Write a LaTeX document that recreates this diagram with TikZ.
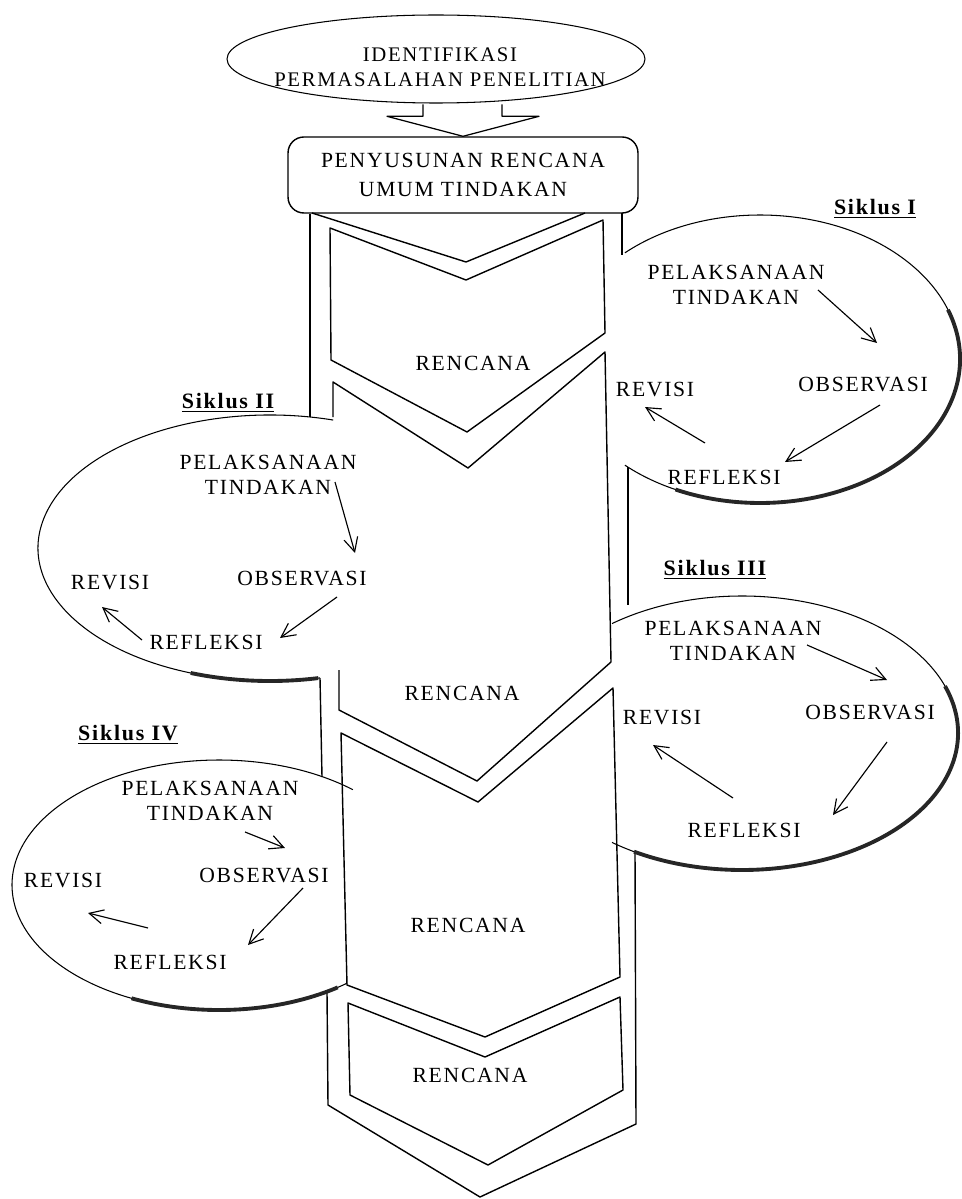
\documentclass[tikz,border=0pt]{standalone}
\usepackage{fontspec}
\setmainfont{Liberation Serif}[LetterSpace=8]
\usetikzlibrary{arrows.meta,calc}

\begin{document}
\begin{tikzpicture}[x=0.02cm, y=0.02cm,
					line join=round,
					txt/.style={font=\fontsize{12.3}{14.6}\selectfont, align=center, inner sep=1pt},
					lbl/.style={font=\fontsize{12.5}{15}\selectfont\bfseries, inner sep=1pt},
					wall/.style={line width=0.8pt},
					rim/.style={line width=0.6pt},
					shadow rim/.style={line width=2.2pt, black!85},
					cyc/.style={-{Straight Barb[length=8pt,width=8pt]}, line width=0.65pt}]

  \useasboundingbox (0,0) rectangle (961,-1199);

  % top
  \node[txt, font=\fontsize{11.8}{14.2}\selectfont] (ident) at (440,-67) {IDENTIFIKASI\\PERMASALAHAN PENELITIAN};
  \draw[rim] (ident.center) ++(-4,8) ellipse [x radius=209, y radius=44];
  \node[txt, draw, line width=0.8pt, rounded corners=9pt, minimum width=7cm, minimum height=1.52cm,
        font=\fontsize{12.3}{16.4}\selectfont] (plan) at (463,-175) {PENYUSUNAN RENCANA\\UMUM TINDAKAN};
  \draw[rim, line width=0.7pt] ($(plan.north)+(-40,32)$) -- ++(0,-12) -- ++(-36,0) -- (plan.north)
        -- ++(76,20) -- ++(-37,0) -- ++(0,12);

  % column
  \draw[wall] (312,-213) -- (466,-262) -- (585,-213);
  \draw[wall] (330,-228) -- (466,-280) -- (603,-220) -- (605,-333) -- (467,-432) -- (331,-360) -- cycle;
  \draw[wall] (333,-417) -- (333,-382) -- (468,-468) -- (605,-352) -- (611,-662) -- (477,-781) -- (339,-710) -- (339,-670);
  \draw[wall] (341,-733) -- (478,-802) -- (613,-688) -- (620,-977) -- (485,-1037) -- (347,-985) -- cycle;
  \draw[wall] (348,-1003) -- (485,-1057) -- (620,-997) -- (623,-1090) -- (488,-1165) -- (350,-1095) -- cycle;
  \draw[wall] (310,-214) -- (310,-417);
  \draw[wall] (320,-678) -- (322,-777);
  \draw[wall] (327,-992) -- (328,-1105) -- (480,-1197) -- (636,-1124) -- (635,-852);
  \draw[wall] (628,-467) -- (628,-605);
  \draw[wall] (622,-213) -- (622,-255);

  \node[txt] (ren1) at (473,-363) {RENCANA};
  \node[txt] (ren2) at (462,-693) {RENCANA};
  \node[txt] (ren3) at (468,-925) {RENCANA};
  \node[txt] (ren4) at (470,-1075) {RENCANA};

  % the four cycles
  \coordinate (e1) at (760,-359);
  \coordinate (e2) at (270,-548);
  \coordinate (e3) at (742,-733);
  \coordinate (e4) at (219,-885);
  \draw[rim] (e1) ++(132.5:200 and 144) arc[start angle=132.5, end angle=-132.5, x radius=200, y radius=144];
  \draw[shadow rim] (e1) ++(20:200 and 144) arc[start angle=20, end angle=-115, x radius=200, y radius=144];
  \draw[rim] (e2) ++(74.2:232 and 133) arc[start angle=74.2, end angle=282.4, x radius=232, y radius=133];
  \draw[shadow rim] (e2) ++(250:232 and 133) arc[start angle=250, end angle=282, x radius=232, y radius=133];
  \draw[rim] (e3) ++(127:216 and 137) arc[start angle=127, end angle=-127, x radius=216, y radius=137];
  \draw[shadow rim] (e3) ++(20:216 and 137) arc[start angle=20, end angle=-120, x radius=216, y radius=137];
  \draw[rim] (e4) ++(49.7:207 and 125) arc[start angle=49.7, end angle=308.2, x radius=207, y radius=125];
  \draw[shadow rim] (e4) ++(245:207 and 125) arc[start angle=245, end angle=305, x radius=207, y radius=125];

  \node[lbl] (sik1) at (875,-209) {\underline{Siklus I}};
  \node[lbl] (sik2) at (228,-403) {\underline{Siklus II}};
  \node[lbl] (sik3) at (715,-570) {\underline{Siklus III}};
  \node[lbl] (sik4) at (128,-735) {\underline{Siklus IV}};

  \node[txt] (pel1) at (736,-285) {PELAKSANAAN\\TINDAKAN};
  \node[txt] (obs1) at (863,-385) {OBSERVASI};
  \node[txt] (ref1) at (724,-477) {REFLEKSI};
  \node[txt] (rev1) at (655,-390) {REVISI};

  \node[txt] (pel2) at (268,-475) {PELAKSANAAN\\TINDAKAN};
  \node[txt] (obs2) at (302,-579) {OBSERVASI};
  \node[txt] (ref2) at (206,-642) {REFLEKSI};
  \node[txt] (rev2) at (110,-583) {REVISI};

  \node[txt] (pel3) at (733,-641) {PELAKSANAAN\\TINDAKAN};
  \node[txt] (obs3) at (870,-713) {OBSERVASI};
  \node[txt] (ref3) at (744,-830) {REFLEKSI};
  \node[txt] (rev3) at (662,-718) {REVISI};

  \node[txt] (pel4) at (210,-801) {PELAKSANAAN\\TINDAKAN};
  \node[txt] (obs4) at (264,-875) {OBSERVASI};
  \node[txt] (ref4) at (170,-962) {REFLEKSI};
  \node[txt] (rev4) at (63,-880) {REVISI};

  \draw[cyc] ([shift={(82,-5)}]pel1.center) -- ([shift={(14,42)}]obs1.center);
  \draw[cyc] ([shift={(17,-20)}]obs1.center) -- ([shift={(61,15)}]ref1.center);
  \draw[cyc] ([shift={(-19,34)}]ref1.center) -- ([shift={(-10,-17)}]rev1.center);

  \draw[cyc] ([shift={(67,-7)}]pel2.center) -- ([shift={(53,26)}]obs2.center);
  \draw[cyc] ([shift={(35,-18)}]obs2.center) -- ([shift={(74,4)}]ref2.center);
  \draw[cyc] ([shift={(-64,2)}]ref2.center) -- ([shift={(-8,-24)}]rev2.center);

  \draw[cyc] ([shift={(74,-4)}]pel3.center) -- ([shift={(17,33)}]obs3.center);
  \draw[cyc] ([shift={(17,-29)}]obs3.center) -- ([shift={(89,15)}]ref3.center);
  \draw[cyc] ([shift={(-11,32)}]ref3.center) -- ([shift={(-9,-27)}]rev3.center);

  \draw[cyc] ([shift={(35,-31)}]pel4.center) -- ([shift={(21,27)}]obs4.center);
  \draw[cyc] ([shift={(39,-13)}]obs4.center) -- ([shift={(78,17)}]ref4.center);
  \draw[cyc] ([shift={(-22,34)}]ref4.center) -- ([shift={(25,-33)}]rev4.center);
\end{tikzpicture}
\end{document}
